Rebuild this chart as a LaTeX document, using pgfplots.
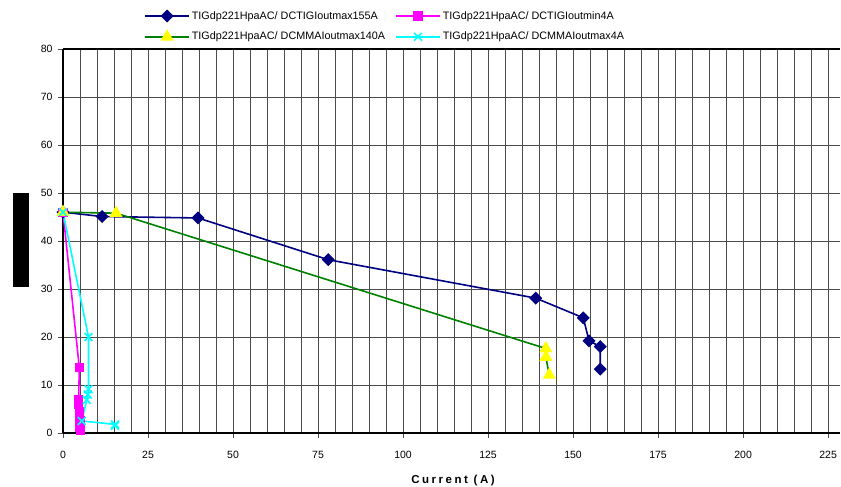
\documentclass[border=0pt]{standalone}
\usepackage{pgfplots}
\pgfplotsset{compat=1.18}
\usepackage{fontspec}
\setmainfont{Liberation Sans}

\definecolor{cnavy}{HTML}{000080}
\definecolor{cmag}{HTML}{FF00FF}
\definecolor{cgreen}{HTML}{008000}
\definecolor{cyell}{HTML}{FFFF00}
\definecolor{ccyan}{HTML}{00FFFF}

\begin{document}
\begin{tikzpicture}
\useasboundingbox (-63pt,-54pt) rectangle (778pt,433pt);
\begin{axis}[
  at={(0pt,0pt)}, anchor=south west,
  scale only axis,
  width=777pt, height=384pt,
  xmin=0, xmax=228.5,
  ymin=0, ymax=80,
  xtick={0,25,...,225},
  minor xtick={0,5,...,230},
  ytick={0,10,...,80},
  grid=both,
  major grid style={black!70, line width=0.8pt},
  minor grid style={black!70, line width=0.8pt},
  axis x line*=bottom,
  axis y line*=left,
  axis line style={black, line width=1.6pt, -},
  tick align=outside,
  major tick length=5pt,
  minor tick length=0pt,
  tick style={black!70, line width=0.8pt},
  /pgf/number format/assume math mode=true,
  ticklabel style={font=\fontsize{10.5}{12}\selectfont},
  xticklabel style={yshift=-10pt},
  yticklabel style={xshift=-2pt},
  xlabel={\addfontfeature{LetterSpace=22}\bfseries Current (A)},
  xlabel style={at={(axis description cs:0.502,0)}, anchor=center, yshift=-48pt, font=\fontsize{11.5}{13}\selectfont},
  ylabel={\rule{94pt}{16pt}},
  ylabel style={at={(axis description cs:0,0.503)}, anchor=center, yshift=42pt, inner sep=0pt},
  legend columns=2,
  legend style={at={(axis description cs:0.1005,1.109)}, anchor=north west, draw=none, fill=none,
    font=\fontsize{10.8}{12}\selectfont, row sep=7.5pt,
    /tikz/every even column/.append style={column sep=8pt}},
  legend cell align=left,
  legend image code/.code={\draw[mark repeat=2,mark phase=2] plot coordinates {(0pt,0pt) (22pt,0pt) (44pt,0pt)};},
]
\addplot[cnavy, line width=1.6pt, mark=square*, mark options={rotate=45, fill=cnavy, draw=cnavy}, mark size=3.8pt]
  coordinates {(0,46) (11.5,45.1) (39.7,44.8) (78,36.1) (139,28.1) (153,24) (154.7,19.2) (158,18) (158,13.3)};
\addlegendentry{TIGdp221HpaAC/ DCTIGIoutmax155A}
\addplot[cmag, line width=1.6pt, mark=square*, mark options={fill=cmag, draw=cmag}, mark size=3.8pt]
  coordinates {(0,46) (4.8,13.6) (4.6,7) (4.6,6) (4.8,4.5) (5,2.5) (5,1.2) (5.2,0.5)};
\addlegendentry{TIGdp221HpaAC/ DCTIGIoutmin4A}
\addplot[cgreen, line width=1.6pt, mark=triangle*, mark options={fill=cyell, draw=cyell}, mark size=6pt]
  coordinates {(0,46) (15.6,45.8) (142,17.6) (142,15.8) (143,12.1)};
\addlegendentry{TIGdp221HpaAC/ DCMMAIoutmax140A}
\addplot[ccyan, line width=1.6pt, mark=x, mark options={line width=1.6pt}, mark size=5.5pt]
  coordinates {(0,46) (7.5,20) (7.5,9.1) (7.3,8) (7,6.9) (5.5,2.5) (15.3,1.8) (15.3,1.5)};
\addlegendentry{TIGdp221HpaAC/ DCMMAIoutmax4A}
\end{axis}
\draw[black, line width=1.2pt] (0pt,384pt) -- (777pt,384pt);
\end{tikzpicture}
\end{document}
